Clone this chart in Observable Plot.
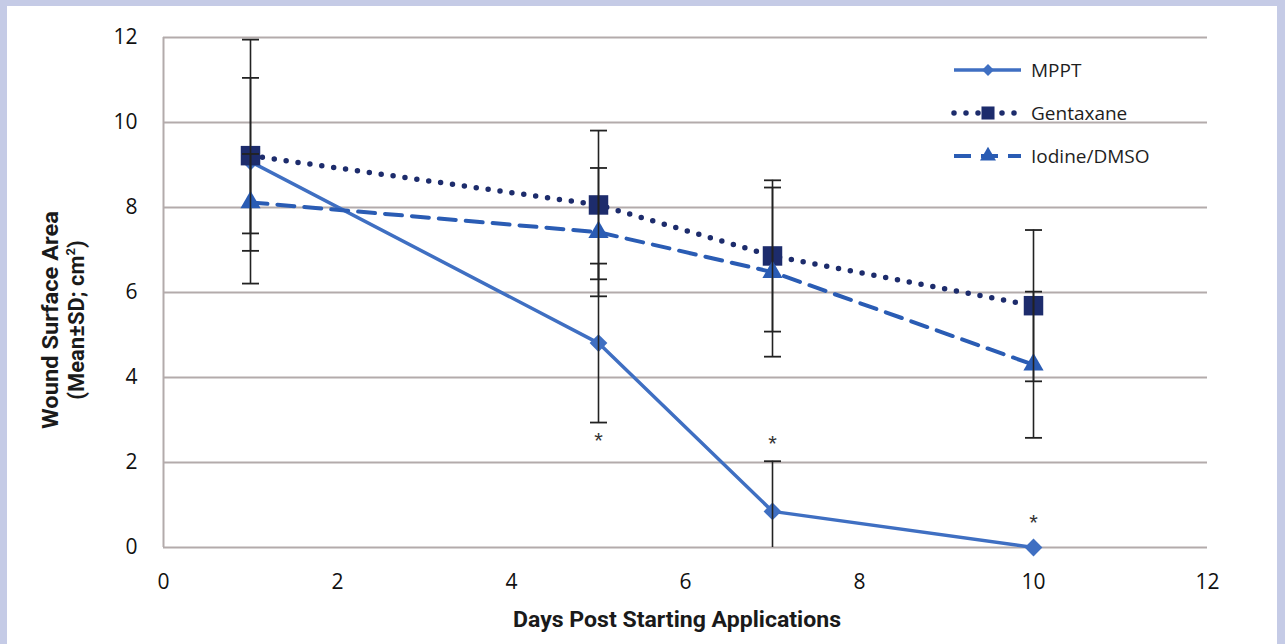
<!DOCTYPE html>
<html>
<head>
<meta charset="utf-8">
<script src="https://cdn.jsdelivr.net/npm/d3@7"></script>
<script src="https://cdn.jsdelivr.net/npm/@observablehq/plot@0.6"></script>
<style>
  html, body { margin: 0; padding: 0; background: #c5cbe6; }
  #wrap { position: relative; width: 1285px; height: 644px; overflow: hidden; }
  #panel { position: absolute; left: 7px; top: 6px; width: 1270px; height: 640px; background: #ffffff; }
  #chart { position: absolute; left: 0; top: 0; }
</style>
</head>
<body>
<div id="wrap"><div id="panel"></div><div id="chart"></div></div>
<script>
// ---- data ----
const days = [1, 5, 7, 10];
const seriesNames = ["MPPT", "Gentaxane", "Iodine/DMSO"];
const mppt = [9.08, 4.81, 0.85, 0];
const mpptSD = [2.87, 1.87, 1.18, null];
const gentaxane = [9.22, 8.06, 6.86, 5.69];
const gentaxaneSD = [1.83, 1.75, 1.78, 1.78];
const iodine = [8.12, 7.42, 6.48, 4.30];
const iodineSD = [1.14, 1.51, 1.99, 1.72];
const starDays = [5, 7, 10];
const starY = [2.59, 2.52, 0.67];
const xTicks = [0, 2, 4, 6, 8, 10, 12];
const yTicks = [0, 2, 4, 6, 8, 10, 12];
const xTitle = "Days Post Starting Applications";
const yTitle1 = "Wound Surface Area";
const yTitle2 = "(Mean\u00B1SD; cm";

// ---- styles ----
const colors = {"MPPT": "#3f6fc2", "Gentaxane": "#1d2c6c", "Iodine/DMSO": "#2a5cb4"};
const gridColor = "#b3abab";
const tickFont = "'Open Sans', 'Lato', sans-serif";
const titleFont = "'Roboto', 'Liberation Sans', sans-serif";

const valuesBy = {"MPPT": mppt, "Gentaxane": gentaxane, "Iodine/DMSO": iodine};
const sdBy = {"MPPT": mpptSD, "Gentaxane": gentaxaneSD, "Iodine/DMSO": iodineSD};
const rows = [];
for (const s of seriesNames) {
  days.forEach((d, i) => rows.push({series: s, day: d, value: valuesBy[s][i], sd: sdBy[s][i]}));
}
const errRows = rows.filter(r => r.sd != null && r.sd > 0)
  .map(r => ({...r, lo: r.value - r.sd, hi: r.value + r.sd}));
const stars = starDays.map((d, i) => ({day: d, y: starY[i]}));

const capSymbol = {draw(ctx, size) { const w = Math.sqrt(size); ctx.moveTo(-w, 0); ctx.lineTo(w, 0); }};

const lineStyle = {
  "MPPT": {strokeWidth: 3.5},
  "Gentaxane": {strokeWidth: 5.5, strokeDasharray: "0 12", strokeLinecap: "round"},
  "Iodine/DMSO": {strokeWidth: 4, strokeDasharray: "17 10"}
};
const markStyle = {
  "MPPT": {symbol: "diamond2", r: 8},
  "Gentaxane": {symbol: "square", r: 11},
  "Iodine/DMSO": {symbol: "triangle", r: 7.5}
};

const seriesMarks = [];
for (const s of seriesNames) {
  const sub = rows.filter(r => r.series === s);
  const err = errRows.filter(r => r.series === s);
  seriesMarks.push(
    Plot.line(sub, {x: "day", y: "value", stroke: colors[s], ...lineStyle[s]}),
    Plot.dot(sub, {x: "day", y: "value", fill: colors[s], stroke: "none", ...markStyle[s]}),
    Plot.ruleX(err, {x: "day", y1: "lo", y2: "hi", stroke: "#222", strokeWidth: 1.6, clip: true}),
    Plot.dot(err, {x: "day", y: "hi", symbol: capSymbol, r: 4.8, stroke: "#222", strokeWidth: 1.8, fill: "none", clip: true}),
    Plot.dot(err, {x: "day", y: "lo", symbol: capSymbol, r: 4.8, stroke: "#222", strokeWidth: 1.8, fill: "none", clip: true})
  );
}

const chart = Plot.plot({
  width: 1285,
  height: 644,
  marginLeft: 163,
  marginRight: 78,
  marginTop: 37,
  marginBottom: 97,
  style: {background: "transparent", fontFamily: tickFont, fontSize: "21px", color: "#000"},
  x: {domain: [0, 12]},
  y: {domain: [0, 12]},
  marks: [
    Plot.gridY(yTicks, {stroke: gridColor, strokeOpacity: 1, strokeWidth: 2}),
    Plot.ruleX([0], {stroke: gridColor, strokeWidth: 2}),
    Plot.axisY(yTicks, {tickSize: 0, tickPadding: 26, label: null, fontSize: 21, fontWeight: 500, fill: "#111"}),
    Plot.axisX(xTicks, {tickSize: 0, tickPadding: 27, label: null, fontSize: 21, fontWeight: 500, fill: "#111"}),
    ...seriesMarks,
    Plot.text(stars, {x: "day", y: "y", text: () => "*", fontSize: 22, fill: "#333", dy: 4, fontFamily: "'Liberation Sans', sans-serif"})
  ]
});
document.getElementById("chart").appendChild(chart);

// ---- titles ----
const svg = d3.select(chart);
svg.append("text")
  .attr("x", 677).attr("y", 627)
  .attr("text-anchor", "middle")
  .attr("font-family", titleFont).attr("font-weight", "bold").attr("font-size", 22)
  .attr("textLength", 328).attr("lengthAdjust", "spacingAndGlyphs")
  .attr("fill", "#1a1a1a")
  .text(xTitle);
const yt = svg.append("g").attr("transform", "translate(0,320) rotate(-90)")
  .attr("font-family", titleFont).attr("font-weight", "bold").attr("font-size", 22).attr("fill", "#1a1a1a")
  .attr("text-anchor", "middle");
yt.append("text").attr("x", 0).attr("y", 58).attr("textLength", 218).attr("lengthAdjust", "spacingAndGlyphs").text(yTitle1);
const t2 = yt.append("text").attr("x", 0).attr("y", 84);
t2.append("tspan").text(yTitle2);
t2.append("tspan").attr("font-size", 13).attr("dy", -9).text("2");
t2.append("tspan").attr("dy", 9).text(")");

// ---- legend ----
const legendRows = seriesNames.map((s, i) => ({s, y: 70 + i * 43}));
const lg = svg.append("g");
for (const {s, y} of legendRows) {
  const st = lineStyle[s];
  lg.append("line").attr("x1", 954).attr("x2", 1021).attr("y1", y).attr("y2", y)
    .attr("stroke", colors[s]).attr("stroke-width", st.strokeWidth)
    .attr("stroke-dasharray", st.strokeDasharray || null)
    .attr("stroke-linecap", st.strokeLinecap || null);
  const sym = {"MPPT": d3.symbolDiamond2, "Gentaxane": d3.symbolSquare, "Iodine/DMSO": d3.symbolTriangle}[s];
  const size = {"MPPT": 90, "Gentaxane": 170, "Iodine/DMSO": 110}[s];
  lg.append("path").attr("d", d3.symbol(sym, size)()).attr("transform", `translate(988,${y})`).attr("fill", colors[s]);
  lg.append("text").attr("x", 1031).attr("y", y).attr("dy", "0.35em").attr("text-anchor", "start")
    .attr("font-family", tickFont).attr("font-size", 19).attr("fill", "#1e1e1e").text(s);
}
</script>
</body>
</html>
